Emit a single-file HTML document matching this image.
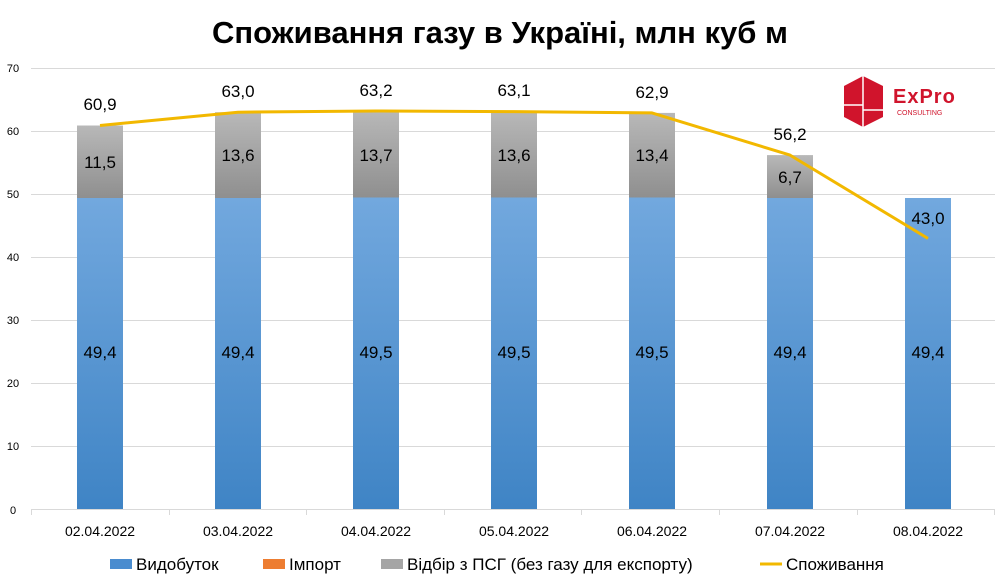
<!DOCTYPE html>
<html><head><meta charset="utf-8"><style>
html,body{margin:0;padding:0;background:#fff;}
svg{display:block;font-family:"Liberation Sans",sans-serif;}
</style></head><body>
<svg width="1000" height="585" viewBox="0 0 1000 585">
<defs>
<linearGradient id="b" x1="0" y1="0" x2="0" y2="1"><stop offset="0" stop-color="#72a8de"/><stop offset="1" stop-color="#3f84c5"/></linearGradient>
<linearGradient id="g" x1="0" y1="0" x2="0" y2="1"><stop offset="0" stop-color="#b8b8b8"/><stop offset="1" stop-color="#8f8f8f"/></linearGradient>
</defs>
<rect width="1000" height="585" fill="#fff"/>
<text x="500" y="43" text-anchor="middle" font-size="31" font-weight="bold" fill="#000">Споживання газу в Україні, млн куб м</text>
<g stroke="#d9d9d9" stroke-width="1">
<line x1="31" y1="68.5" x2="995" y2="68.5"/>
<line x1="31" y1="131.5" x2="995" y2="131.5"/>
<line x1="31" y1="194.5" x2="995" y2="194.5"/>
<line x1="31" y1="257.5" x2="995" y2="257.5"/>
<line x1="31" y1="320.5" x2="995" y2="320.5"/>
<line x1="31" y1="383.5" x2="995" y2="383.5"/>
<line x1="31" y1="446.5" x2="995" y2="446.5"/>
<line x1="31" y1="509.5" x2="995" y2="509.5"/>
<line x1="31.5" y1="509" x2="31.5" y2="515"/><line x1="169.5" y1="509" x2="169.5" y2="515"/><line x1="306.5" y1="509" x2="306.5" y2="515"/><line x1="444.5" y1="509" x2="444.5" y2="515"/><line x1="581.5" y1="509" x2="581.5" y2="515"/><line x1="719.5" y1="509" x2="719.5" y2="515"/><line x1="857.5" y1="509" x2="857.5" y2="515"/><line x1="994.5" y1="509" x2="994.5" y2="515"/>
</g>
<g font-size="11" fill="#000" text-anchor="middle">
<text x="13" y="72">70</text><text x="13" y="135">60</text><text x="13" y="198">50</text><text x="13" y="261">40</text><text x="13" y="324">30</text><text x="13" y="387">20</text><text x="13" y="450">10</text><text x="13" y="514">0</text>
</g>
<g>
<rect x="77" y="198" width="46" height="311" fill="url(#b)"/><rect x="77" y="125.5" width="46" height="72.5" fill="url(#g)"/>
<rect x="215" y="198" width="46" height="311" fill="url(#b)"/><rect x="215" y="112.2" width="46" height="85.8" fill="url(#g)"/>
<rect x="353" y="197.5" width="46" height="311.5" fill="url(#b)"/><rect x="353" y="111" width="46" height="86.5" fill="url(#g)"/>
<rect x="491" y="197.5" width="46" height="311.5" fill="url(#b)"/><rect x="491" y="111.6" width="46" height="85.9" fill="url(#g)"/>
<rect x="629" y="197.5" width="46" height="311.5" fill="url(#b)"/><rect x="629" y="112.9" width="46" height="84.6" fill="url(#g)"/>
<rect x="767" y="198" width="46" height="311" fill="url(#b)"/><rect x="767" y="155.1" width="46" height="42.9" fill="url(#g)"/>
<rect x="905" y="198" width="46" height="311" fill="url(#b)"/>
</g>
<polyline points="100,125.5 238,112.2 376,111 514,111.6 652,112.9 790,155.1 928,238.5" fill="none" stroke="#f2b800" stroke-width="3" stroke-linejoin="round"/>
<g font-size="17" fill="#000" text-anchor="middle">
<text x="100" y="358">49,4</text><text x="238" y="358">49,4</text><text x="376" y="358">49,5</text><text x="514" y="358">49,5</text><text x="652" y="358">49,5</text><text x="790" y="358">49,4</text><text x="928" y="358">49,4</text>
<text x="100" y="168">11,5</text><text x="238" y="161">13,6</text><text x="376" y="161">13,7</text><text x="514" y="161">13,6</text><text x="652" y="161">13,4</text><text x="790" y="183">6,7</text>
<text x="100" y="110">60,9</text><text x="238" y="97">63,0</text><text x="376" y="96">63,2</text><text x="514" y="96">63,1</text><text x="652" y="98">62,9</text><text x="790" y="140">56,2</text><text x="928" y="224">43,0</text>
</g>
<g font-size="14" fill="#000" text-anchor="middle">
<text x="100" y="536">02.04.2022</text><text x="238" y="536">03.04.2022</text><text x="376" y="536">04.04.2022</text><text x="514" y="536">05.04.2022</text><text x="652" y="536">06.04.2022</text><text x="790" y="536">07.04.2022</text><text x="928" y="536">08.04.2022</text>
</g>
<g font-size="17" fill="#000">
<rect x="110" y="559" width="22" height="10" fill="#4a8ccf"/><text x="136" y="570">Видобуток</text>
<rect x="263" y="559" width="22" height="10" fill="#ed7d31"/><text x="289" y="570">Імпорт</text>
<rect x="381" y="559" width="22" height="10" fill="#a5a5a5"/><text x="407" y="570">Відбір з ПСГ (без газу для експорту)</text>
<line x1="760" y1="564" x2="782" y2="564" stroke="#f2b800" stroke-width="3"/><text x="786" y="570">Споживання</text>
</g>
<g>
<polygon points="844,86 863,76 883,86 883,117 863,127 844,117" fill="#d0142c"/>
<line x1="863" y1="76" x2="863" y2="127" stroke="#fff" stroke-width="1.5"/>
<line x1="844" y1="105" x2="863" y2="105" stroke="#fff" stroke-width="1.5"/>
<line x1="863" y1="110" x2="883" y2="110" stroke="#fff" stroke-width="1.5"/>
<text x="893" y="103" font-size="20" fill="#d0142c" font-weight="bold" letter-spacing="1">ExPro</text>
<text x="897" y="115" font-size="7" fill="#d0142c">CONSULTING</text>
</g>
</svg>
</body></html>
